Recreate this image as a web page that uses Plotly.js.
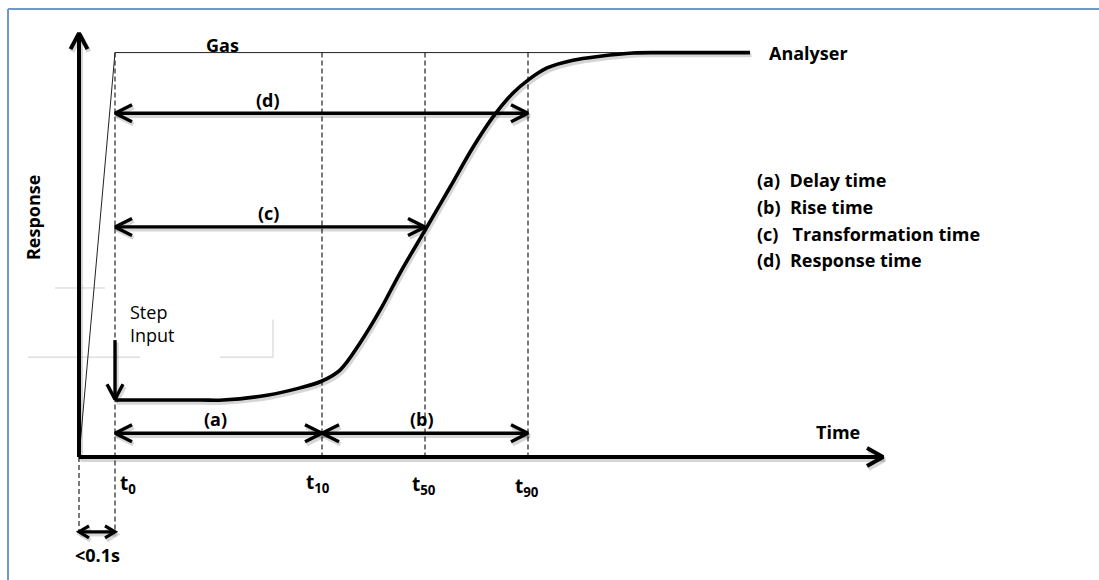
<!DOCTYPE html>
<html>
<head>
<meta charset="utf-8">
<script src="https://cdn.plot.ly/plotly-3.0.1.min.js"></script>
<style>html,body{margin:0;padding:0;background:#fff;}#chart{width:1099px;height:580px;}</style>
</head>
<body>
<div id="chart"></div>
<script>
// ---- Data (time in arbitrary units, response in % of gas step) ----
const markLabels = ['t<sub>0</sub>', 't<sub>10</sub>', 't<sub>50</sub>', 't<sub>90</sub>'];
const markTimes  = [3.6, 24.3, 34.6, 44.9];

const gasTime = [0, 3.6, 58.1];
const gasResp = [0, 100, 100];

const analyserTime = [3.6, 12.1, 14.4, 18.8, 22.1, 24.3, 26.1, 28.1, 30.1, 32.1, 34.8, 37.1, 39.4, 41.4, 43.4, 44.9, 46.8, 49.4, 52.1, 55.4, 58.1, 67.1];
const analyserResp = [14.1, 14.1, 14.1, 15.3, 17.1, 18.8, 21.5, 28.2, 36.3, 45.5, 56.9, 66.7, 76.6, 84.1, 90.0, 93.2, 96.2, 98.1, 99.1, 99.9, 100, 100];

// interval arrows: label, start mark index, end mark index, response level
const intervalLabels = ['(a)', '(b)', '(c)', '(d)'];
const intervalStart  = [0, 1, 0, 0];
const intervalEnd    = [1, 3, 2, 3];
const intervalLevel  = [5.9, 5.9, 56.9, 85.0];
const intervalLabelX = [13.6, 34.3, 18.9, 18.9];

const legendLines = ['(a)\u00a0\u00a0Delay time', '(b)\u00a0\u00a0Rise time', '(c)\u00a0\u00a0\u00a0Transformation time', '(d)\u00a0\u00a0Response time'];
const legendLevels = [68.5, 61.8, 55.1, 48.7];

const stepInputTop = 28.9;      // response where step-input arrow starts
const analyserStart = 14.3;     // response where step-input arrow ends
const delayLevel = -18.5;       // level of the <0.1s arrow
const axisTimeEnd = 80.4;
const axisRespEnd = 104.8;

// faint artefact lines (remnants of a text box)
const boxX = [[-2.4, 2.6], [-5.1, 6.1], [14.1, 19.4], [19.4, 19.4]];
const boxY = [[41.8, 41.8], [24.7, 24.7], [24.7, 24.7], [34.0, 24.7]];

// ---- Geometry helpers ----
const W = 1099, H = 580;
const xRange = [-7.9, 102.0], yRange = [-30.4, 113.0];
const sx = W / (xRange[1] - xRange[0]);   // px per time unit
const sy = H / (yRange[1] - yRange[0]);   // px per response unit

const traces = [];
const shadow = 'rgba(0,0,0,0.16)';

function chevron(xs, ys, tx, ty, fx, fy, back, out) {
  // tip (tx,ty), coming from (fx,fy); work in px space
  let dx = (tx - fx) * sx, dy = (ty - fy) * sy;
  const L = Math.hypot(dx, dy); dx /= L; dy /= L;
  const nx = -dy, ny = dx;
  const p1 = [tx + (-dx * back + nx * out) / sx, ty + (-dy * back + ny * out) / sy];
  const p2 = [tx + (-dx * back - nx * out) / sx, ty + (-dy * back - ny * out) / sy];
  xs.push(p1[0], tx, p2[0], null); ys.push(p1[1], ty, p2[1], null);
}
function arrow(x0, y0, x1, y1, both, w, back, out) {
  const xs = [x0, x1, null], ys = [y0, y1, null];
  chevron(xs, ys, x1, y1, x0, y0, back, out);
  if (both) chevron(xs, ys, x0, y0, x1, y1, back, out);
  // soft shadow, offset a little down-right
  traces.push({x: xs.map(v => v === null ? null : v + 1.5 / sx), y: ys.map(v => v === null ? null : v - 2.5 / sy),
    mode: 'lines', line: {color: shadow, width: w + 1}, hoverinfo: 'skip'});
  traces.push({x: xs, y: ys, mode: 'lines', line: {color: '#000', width: w}, hoverinfo: 'skip'});
}

// ---- Build ----
boxX.forEach((bx, i) => traces.push({x: bx, y: boxY[i], mode: 'lines', line: {color: '#d0d0d0', width: 1}, hoverinfo: 'skip'}));

const dashStyle = {color: '#333', width: 1.3, dash: '5px,3px'};
markTimes.forEach((t, i) => {
  traces.push({x: [t, t], y: [100, i === 0 ? delayLevel : 0], mode: 'lines', line: dashStyle, hoverinfo: 'skip'});
});
traces.push({x: [0, 0], y: [0, delayLevel], mode: 'lines', line: dashStyle, hoverinfo: 'skip'});

traces.push({x: gasTime, y: gasResp, mode: 'lines', line: {color: '#222', width: 1}, hoverinfo: 'skip'});
traces.push({x: analyserTime.map(v => v + 1.5 / sx), y: analyserResp.map(v => v - 2.5 / sy), mode: 'lines',
  line: {color: shadow, width: 4.5, shape: 'spline', smoothing: 1}, hoverinfo: 'skip'});
traces.push({x: analyserTime, y: analyserResp, mode: 'lines', line: {color: '#000', width: 3.6, shape: 'spline', smoothing: 1}, hoverinfo: 'skip'});

// axes
arrow(0, 0, 0, axisRespEnd, false, 4, 16, 8.5);
arrow(0, 0, axisTimeEnd, 0, false, 4, 16, 9);
// intervals
intervalLabels.forEach((l, i) => {
  arrow(markTimes[intervalStart[i]], intervalLevel[i], markTimes[intervalEnd[i]], intervalLevel[i], true, 3.4, 17, 8.5);
});
// step input
arrow(markTimes[0], stepInputTop, markTimes[0], analyserStart, false, 3.4, 15, 8);
// <0.1s
arrow(0, delayLevel, markTimes[0], delayLevel, true, 3.2, 10, 6);

const font = {family: '"Open Sans", Lato, sans-serif', size: 18, color: '#000', weight: 'bold'};
const ann = [];
function label(x, y, text, opts) {
  ann.push(Object.assign({x: x, y: y, xref: 'x', yref: 'y', text: text, showarrow: false, font: font,
    xanchor: 'center', yanchor: 'middle'}, opts || {}));
}
intervalLabels.forEach((l, i) => label(intervalLabelX[i], intervalLevel[i] + 3.4, l));
label(4.9, 33.0, 'Step<br>Input', {xanchor: 'left', align: 'left', font: Object.assign({}, font, {weight: 'normal'})});
label(1.8, -24.2, '&lt;0.1s');

const markLabelY = [-6.6, -6.4, -6.8, -7.4];
const markLabelX = [4.9, 23.9, 34.5, 44.8];
markLabels.forEach((m, i) => label(markLabelX[i], markLabelY[i], m, {font: Object.assign({}, font, {size: 19})}));

label(14.3, 101.9, 'Gas');
label(68.8, 99.9, 'Analyser', {xanchor: 'left'});
label(75.9, 6.2, 'Time');
label(-4.6, 59.1, 'Response', {textangle: -90});
legendLines.forEach((t, i) => label(67.6, legendLevels[i], t, {xanchor: 'left'}));

const layout = {
  width: W, height: H, margin: {l: 0, r: 0, t: 0, b: 0},
  paper_bgcolor: '#fff', plot_bgcolor: '#fff', showlegend: false,
  xaxis: {range: xRange, visible: false, fixedrange: true},
  yaxis: {range: yRange, visible: false, fixedrange: true},
  annotations: ann,
  shapes: [
    {type: 'line', xref: 'paper', yref: 'paper', x0: 8/W, x1: 8/W, y0: 0, y1: 1 - 9/H, line: {color: '#6f98cc', width: 2}},
    {type: 'line', xref: 'paper', yref: 'paper', x0: 8/W, x1: 1, y0: 1 - 9/H, y1: 1 - 9/H, line: {color: '#6f98cc', width: 2}}
  ]
};
Plotly.newPlot('chart', traces, layout, {staticPlot: true, displayModeBar: false});
</script>
</body>
</html>
